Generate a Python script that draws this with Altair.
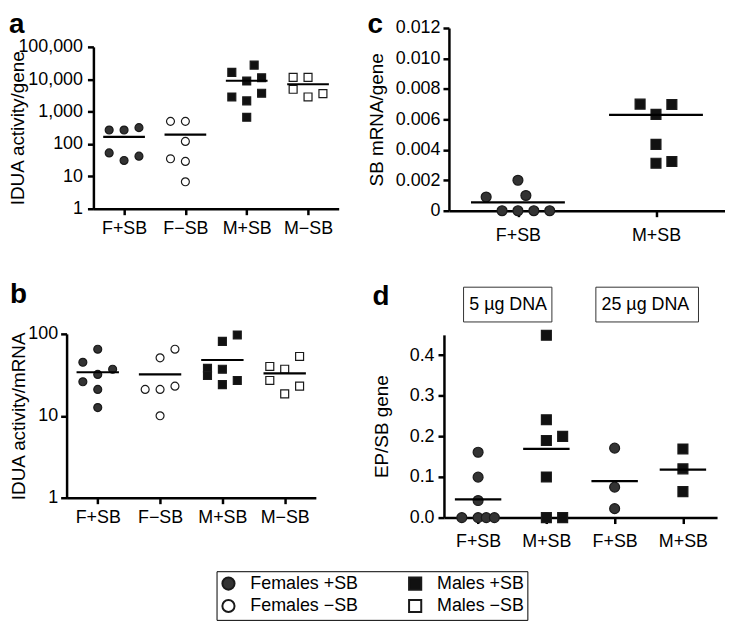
import altair as alt
import pandas as pd

FONT = "Liberation Sans"

# ---- legend groups (column-major order gives the two-column legend layout) ----
GROUPS = ["Females +SB", "Females −SB", "Males +SB", "Males −SB"]
GROUP_FILLS = ["#333333", "#ffffff", "#111111", "#ffffff"]
GROUP_SHAPES = ["circle", "circle", "square", "square"]

# ---- panel a: IDUA activity/gene ----
a_categories = ["F+SB", "F−SB", "M+SB", "M−SB"]
a_cat_groups = ["Females +SB", "Females −SB", "Males +SB", "Males −SB"]
a_point_cat = [0] * 6 + [1] * 6 + [2] * 8 + [3] * 5
a_values = [270, 270, 320, 53, 31, 42,
            500, 500, 120, 35, 29, 6.8,
            16300, 27400, 8800, 11100, 2840, 2140, 3700, 670,
            11400, 11400, 4900, 2840, 3600]
a_slot = [-2, 0, 2, -2, 0, 2,
          -2, 0, 0, -2, 0, 0,
          -2, 1, 0, 2, -2, 0, 2, 0,
          -2, 0, -2, 0, 2]
a_means = [165, 195, 9000, 7000]

# ---- panel b: IDUA activity/mRNA ----
b_categories = ["F+SB", "F−SB", "M+SB", "M−SB"]
b_cat_groups = ["Females +SB", "Females −SB", "Males +SB", "Males −SB"]
b_point_cat = [0] * 7 + [1] * 6 + [2] * 7 + [3] * 6
b_values = [65, 45, 32, 37, 26, 21, 12.6,
            65, 51, 21, 21, 23, 10,
            97, 81, 38, 31, 37, 27, 24,
            40, 37, 53, 27, 23, 18.5]
b_slot = [0, -2, 0, 2, -2, 0, 0,
          2, 0, -2, 0, 2, 0,
          2, 0, -2, -2, 0, 2, 0,
          -2, 0, 2, -2, 2, 0]
b_means = [34, 32, 48, 33]

# ---- panel c: SB mRNA/gene ----
c_categories = ["F+SB", "M+SB"]
c_cat_groups = ["Females +SB", "Males +SB"]
c_point_cat = [0] * 7 + [1] * 6
c_values = [0.0009, 0.002, 0.001, 0, 0, 0, 0,
            0.0070, 0.00698, 0.00633, 0.00436, 0.00312, 0.00323]
c_slot = [-4, 0, 1, -2, 0, 2, 4,
          -2, 2, 0, 0, 0, 2]
c_means = [0.00055, 0.0063]

# ---- panel d: EP/SB gene ----
d_categories = ["F+SB", "M+SB", "F+SB", "M+SB"]
d_cat_groups = ["Females +SB", "Males +SB", "Females +SB", "Males +SB"]
d_point_cat = [0] * 7 + [1] * 7 + [2] * 3 + [3] * 3
d_values = [0.161, 0.0996, 0.042, 0, 0, 0, 0,
            0.449, 0.241, 0.19, 0.2, 0.1, 0, 0,
            0.171, 0.075, 0.022,
            0.169, 0.12, 0.064]
d_slot = [0, 0, 0, -2, 0, 1, 2,
          0, 0, 0, 2, 0, 0, 2,
          0, 0, 0,
          0, 0, 0]
d_means = [0.045, 0.169, 0.09, 0.118]
d_dose_labels = ["5 µg DNA", "25 µg DNA"]
d_dose_center = [0.44, 2.45]
d_dose_from = [-0.213, 1.725]
d_dose_to = [1.081, 3.228]

FILL_SCALE = alt.Scale(domain=GROUPS, range=GROUP_FILLS)
SHAPE_SCALE = alt.Scale(domain=GROUPS, range=GROUP_SHAPES)
LEGEND = alt.Legend(
    title=None, orient="none", legendX=210, legendY=565, columns=2,
    columnPadding=46, rowPadding=1, padding=3, labelOffset=13,
    symbolSize=150, labelFontSize=18, labelFont=FONT, labelColor="black",
    strokeColor="black", symbolStrokeWidth=2, labelLimit=400,
)


def make_panel(cats, cat_groups, pcat, vals, slots, means, k, width, height,
               yscale, yaxis, letter, title_offset, size, xpad, extra=None):
    pts = pd.DataFrame({"cat": pcat, "value": vals, "slot": slots,
                        "group": [cat_groups[c] for c in pcat]})
    mdf = pd.DataFrame({"cat": list(range(len(cats))), "mean": means})
    expr = "[" + ",".join("'%s'" % c for c in cats) + "][datum.value]"
    xscale = alt.Scale(domain=[-0.5, len(cats) - 0.5], nice=False, zero=False)
    xaxis = alt.Axis(values=list(range(len(cats))), labelExpr=expr,
                     title=None, labelPadding=xpad)
    points = alt.Chart(pts).transform_calculate(
        xp="datum.cat + datum.slot * %f" % k
    ).mark_point(filled=True, opacity=1, stroke="#1a1a1a", strokeWidth=1.2,
                 size=size).encode(
        x=alt.X("xp:Q", scale=xscale, axis=xaxis),
        y=alt.Y("value:Q", scale=yscale, axis=yaxis),
        fill=alt.Fill("group:N", scale=FILL_SCALE, legend=LEGEND),
        shape=alt.Shape("group:N", scale=SHAPE_SCALE, legend=LEGEND),
    )
    rules = alt.Chart(mdf).transform_calculate(
        x0="datum.cat - 0.34", x1="datum.cat + 0.34"
    ).mark_rule(color="black", strokeWidth=2.2).encode(
        x=alt.X("x0:Q", scale=xscale, axis=xaxis), x2="x1:Q",
        y=alt.Y("mean:Q", scale=yscale, axis=yaxis),
    )
    layers = [points, rules]
    if extra is not None:
        layers += extra(xscale, xaxis)
    return alt.layer(*layers).properties(
        width=width, height=height,
        title=alt.TitleParams(letter, offset=title_offset),
    )


def dose_boxes(xscale, xaxis):
    ann = pd.DataFrame({"label": d_dose_labels, "xc": d_dose_center,
                        "x0": d_dose_from, "x1": d_dose_to})
    box = alt.Chart(ann).mark_rect(fill="white", stroke="#333333",
                                   strokeWidth=1).encode(
        x=alt.X("x0:Q", scale=xscale, axis=xaxis), x2="x1:Q",
        y=alt.value(-48), y2=alt.value(-13),
    )
    txt = alt.Chart(ann).mark_text(fontSize=18, font=FONT, color="black").encode(
        x=alt.X("xc:Q", scale=xscale, axis=xaxis),
        y=alt.value(-30.5), text="label:N",
    )
    return [box, txt]


pa = make_panel(
    a_categories, a_cat_groups, a_point_cat, a_values, a_slot, a_means,
    7.5 / 61.75, 247, 163,
    alt.Scale(type="log", domain=[1, 100000], nice=False),
    alt.Axis(values=[1, 10, 100, 1000, 10000, 100000], format=",",
             title="IDUA activity/gene", titleX=-66, titleBaseline="bottom",
             labelPadding=5),
    "a", -1, 64, 5)

pb = make_panel(
    b_categories, b_cat_groups, b_point_cat, b_values, b_slot, b_means,
    7.5 / 62.75, 251, 165,
    alt.Scale(type="log", domain=[1, 100], nice=False),
    alt.Axis(values=[1, 10, 100], format=",", title="IDUA activity/mRNA",
             titleX=-38, titleBaseline="bottom", labelPadding=3),
    "b", 16, 64, 5)

pc = make_panel(
    c_categories, c_cat_groups, c_point_cat, c_values, c_slot, c_means,
    8 / 139, 278, 184,
    alt.Scale(domain=[0, 0.012], nice=False, zero=False),
    alt.Axis(values=[0, 0.002, 0.004, 0.006, 0.008, 0.010, 0.012],
             labelExpr="datum.value == 0 ? '0' : format(datum.value, '.3f')",
             title="SB mRNA/gene", titleX=-63, titleBaseline="bottom",
             labelPadding=3),
    "c", -20, 100, 10)

pd_ = make_panel(
    d_categories, d_cat_groups, d_point_cat, d_values, d_slot, d_means,
    8.2 / 68.75, 275, 184,
    alt.Scale(domain=[0, 0.45], nice=False, zero=False),
    alt.Axis(values=[0, 0.1, 0.2, 0.3, 0.4], format=".1f",
             title="EP/SB gene", titleX=-53, titleBaseline="bottom",
             labelPadding=4),
    "d", -24.5, 100, 9, extra=dose_boxes)


def spacer(w, h):
    return alt.Chart(pd.DataFrame({"s": [0]})).mark_rect(opacity=0).encode(
        x=alt.value(0), x2=alt.value(w), y=alt.value(0), y2=alt.value(h)
    ).properties(width=w, height=h)


def wrap(p, dx, dy):
    return alt.vconcat(spacer(1, dy),
                       alt.hconcat(spacer(dx, 1), p, spacing=0),
                       spacing=0)


chart = alt.concat(
    wrap(pa, 1, 1), wrap(pc, 28, 1),
    wrap(pb, 1, 37), wrap(pd_, 34, 39),
    columns=2, spacing=0, align="each", padding=0,
).configure(font=FONT).configure_view(stroke=None).configure_axis(
    domainColor="black", domainWidth=2.5, tickColor="black", tickWidth=2.5,
    tickSize=6, labelFontSize=18, labelColor="black", titleFontSize=19,
    titleFontWeight="normal", titleColor="black", grid=False,
    labelFont=FONT, titleFont=FONT, labelFlush=False, labelOverlap=False,
).configure_title(
    font=FONT, fontSize=28, fontWeight="bold", anchor="start",
    frame="bounds", color="black",
)

chart.save("out.html", embed_options={"renderer": "svg", "actions": False})
